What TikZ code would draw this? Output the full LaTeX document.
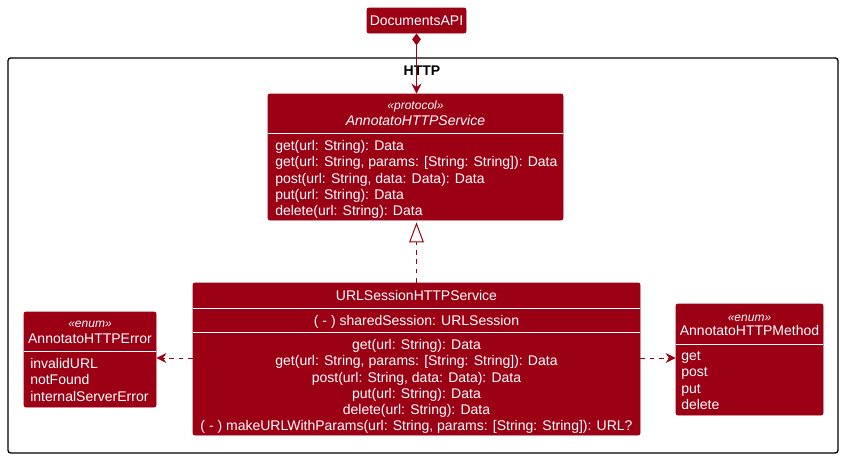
\documentclass[tikz,border=0pt]{standalone}
\usepackage{fontspec}
\setmainfont{Liberation Sans}
\usetikzlibrary{arrows.meta}
\definecolor{umlred}{RGB}{155,0,20}
\begin{document}
\begin{tikzpicture}[x=0.75pt,y=-0.75pt,
  box/.style={draw=umlred, fill=umlred, rounded corners=1.5pt, inner sep=0pt, line width=0.6pt},
  txt/.style={text=white, font=\fontsize{10.5}{12}\selectfont, inner sep=0pt, text height=7.5pt, text depth=0pt},
  ltxt/.style={txt, anchor=west},
  itxt/.style={txt, font=\fontsize{10.5}{12}\selectfont\itshape},
  stereo/.style={text=white, font=\fontsize{9}{10}\selectfont\itshape, inner sep=0pt, text height=6.5pt, text depth=0pt},
  sep/.style={draw=white, line width=0.75pt},
  conn/.style={draw=umlred, line width=0.75pt},
  dashline/.style={dash pattern=on 3.5pt off 3.5pt},
  dep/.style={conn, dashline, -{Stealth[length=7.5pt,width=7.5pt,inset=2.5pt]}}
]
\useasboundingbox (0,0) rectangle (844,458);

% package frame
\node[draw=black, line width=1pt, rounded corners=2pt, inner sep=0pt, minimum width=622.5pt, minimum height=296.25pt] (pkg) at (423,255.5) {};
\node[font=\fontsize{10.5}{12}\selectfont\bfseries, inner sep=0pt, text height=7.5pt, text depth=0pt] (pkgtitle) at (422,70) {HTTP};

% DocumentsAPI
\node[box, minimum width=74.25pt, minimum height=18.75pt] (api) at (416.5,20.5) {};
\node[txt] (apiname) at (416.5,20.5) {DocumentsAPI};

% protocol
\node[box, minimum width=221.25pt, minimum height=94.5pt] (proto) at (415.5,157) {};
\node[stereo] (protost) at (415.5,105) {«protocol»};
\node[itxt] (protoname) at (415.5,120) {AnnotatoHTTPService};
\draw[sep] (proto.west |- 0,133.3) -- (proto.east |- 0,133.3);
\node[ltxt] (pm1) at (275,145) {get(url: String): Data};
\node[ltxt] (pm2) at (275,161.5) {get(url: String, params: [String: String]): Data};
\node[ltxt] (pm3) at (275,178) {post(url: String, data: Data): Data};
\node[ltxt] (pm4) at (275,194) {put(url: String): Data};
\node[ltxt] (pm5) at (275,210.5) {delete(url: String): Data};

% URLSessionHTTPService
\node[box, minimum width=335.25pt, minimum height=114pt] (url) at (416.5,359) {};
\node[txt] (urlname) at (416.5,295) {URLSessionHTTPService};
\draw[sep] (url.west |- 0,308.3) -- (url.east |- 0,308.3);
\node[txt] (urlf1) at (416.5,320) {( - ) sharedSession: URLSession};
\draw[sep] (url.west |- 0,332.3) -- (url.east |- 0,332.3);
\node[txt] (um1) at (416.5,344) {get(url: String): Data};
\node[txt] (um2) at (416.5,360.3) {get(url: String, params: [String: String]): Data};
\node[txt] (um3) at (416.5,377) {post(url: String, data: Data): Data};
\node[txt] (um4) at (416.5,393.3) {put(url: String): Data};
\node[txt] (um5) at (416.5,409) {delete(url: String): Data};
\node[txt] (um6) at (416.5,425.3) {( - ) makeURLWithParams(url: String, params: [String: String]): URL?};

% AnnotatoHTTPError
\node[box, minimum width=99pt, minimum height=71.25pt] (err) at (90,359.5) {};
\node[stereo] (errst) at (90,323.5) {«enum»};
\node[txt] (errname) at (90,338.3) {AnnotatoHTTPError};
\draw[sep] (err.west |- 0,351.7) -- (err.east |- 0,351.7);
\node[ltxt] (e1) at (30,363.5) {invalidURL};
\node[ltxt] (e2) at (30,379.5) {notFound};
\node[ltxt] (e3) at (30,396) {internalServerError};

% AnnotatoHTTPMethod
\node[box, minimum width=110.25pt, minimum height=83.25pt] (meth) at (749.5,359.5) {};
\node[stereo] (methst) at (749.5,316.7) {«enum»};
\node[txt] (methname) at (749.5,330) {AnnotatoHTTPMethod};
\draw[sep] (meth.west |- 0,344) -- (meth.east |- 0,344);
\node[ltxt] (m1) at (681,355.7) {get};
\node[ltxt] (m2) at (681,371.7) {post};
\node[ltxt] (m3) at (681,388.3) {put};
\node[ltxt] (m4) at (681,404) {delete};

% connectors
\draw[conn, {Diamond[length=9pt,width=6.5pt]}-{Stealth[length=7.5pt,width=7.5pt,inset=2.5pt]}] (api.south) -- (api.south |- proto.north);
\draw[conn, dashline, -{Triangle[open, length=15pt, width=11pt, fill=white]}, shorten >=1.5pt] (url.north) -- (url.north |- proto.south);
\draw[dep] (url.west |- 0,358) -- (err.east |- 0,358);
\draw[dep] (url.east |- 0,358) -- (meth.west |- 0,358);
\end{tikzpicture}
\end{document}
